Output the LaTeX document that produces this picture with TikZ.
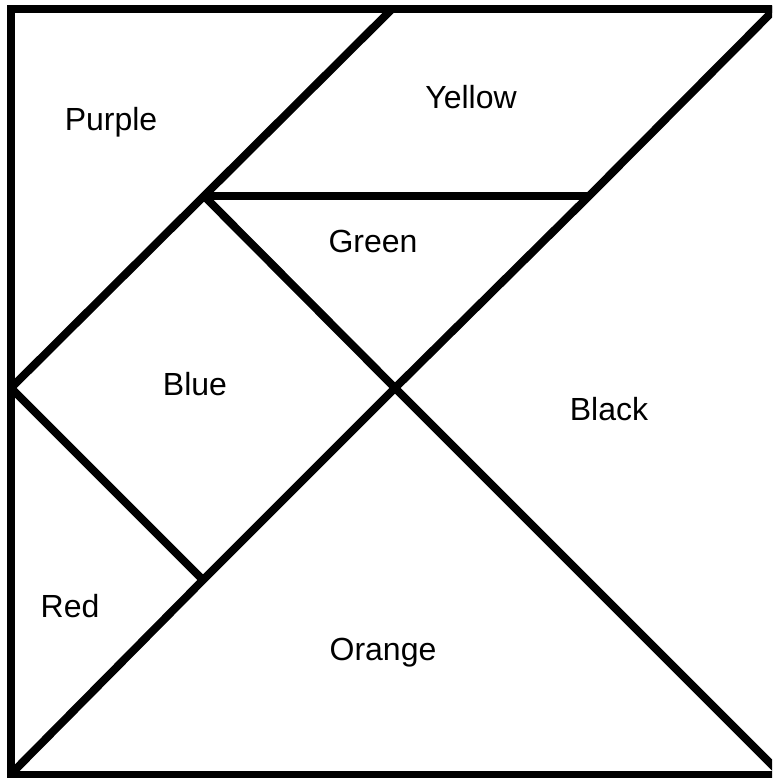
\documentclass[tikz,border=0pt]{standalone}
\usepackage{fontspec}
\setmainfont{Liberation Sans}
\begin{document}
\begin{tikzpicture}[x=1pt,y=-1pt,
  edge/.style={line width=8pt,line join=miter,line cap=butt,black},
  lab/.style={anchor=base,inner sep=0pt,font=\fontsize{32}{38}\selectfont}]
\useasboundingbox (0,0) rectangle (772,778);
\clip (0,0) rectangle (772,778);
\fill[white] (0,0) rectangle (772,778);
% key points
\coordinate (TL) at (11,9);
\coordinate (BR) at (781,775);
\coordinate (B) at (392,9);
\coordinate (C) at (775,9);
\coordinate (D) at (204,196);
\coordinate (E) at (589,196);
\coordinate (F) at (11,388);
\coordinate (O) at (395,388);
\coordinate (G) at (203,580);
\coordinate (H) at (11,774);
\coordinate (R) at (782,775);
% outer square
\draw[edge] (TL) rectangle (BR);
% internal edges
\draw[edge] (F) -- (B);
\draw[edge] (C) -- (E) -- (O) -- (G) -- (H);
\draw[edge] (D) -- (E);
\draw[edge] (D) -- (O) -- (R);
\draw[edge] (F) -- (G);
% labels
\node[lab] (purple) at (111,131) {Purple};
\node[lab] (yellow) at (471,109) {Yellow};
\node[lab] (green) at (373,252) {Green};
\node[lab] (blue) at (195,395) {Blue};
\node[lab] (black) at (609,420) {Black};
\node[lab] (red) at (70,617) {Red};
\node[lab] (orange) at (383,660) {Orange};
\end{tikzpicture}
\end{document}
